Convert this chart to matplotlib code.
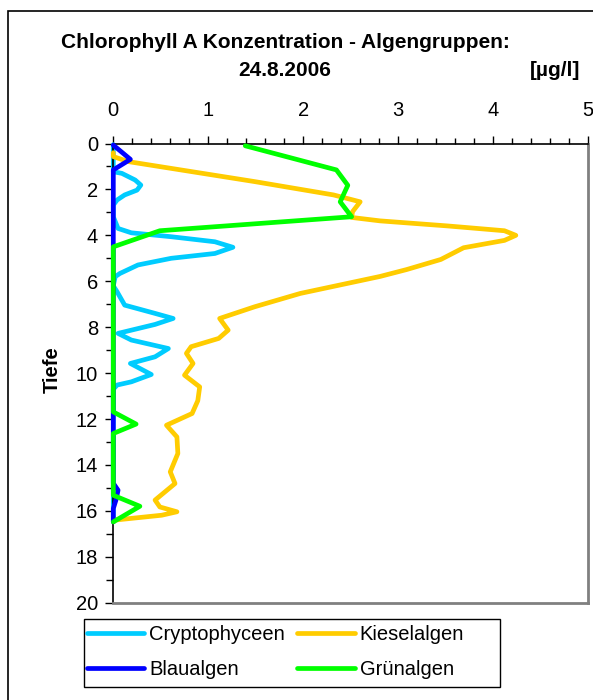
import matplotlib
matplotlib.use("Agg")
import matplotlib.pyplot as plt
from matplotlib.patches import Rectangle
from matplotlib.ticker import MultipleLocator

plt.rcParams['font.family'] = ['Liberation Sans', 'DejaVu Sans']

# ---- data (value in µg/l, depth in m) ----
crypto_val = [0, 0, 0.09, 0.23, 0.29, 0.25, 0.12, 0.04, 0, 0, 0.05, 0.19, 0.61, 1.07, 1.26, 1.07, 0.61, 0.26,
              0.07, 0.02, 0, 0.04, 0.12, 0.44, 0.63, 0.44, 0.05, 0.19, 0.58, 0.44, 0.18, 0.4, 0.19, 0.04, 0, 0]
crypto_depth = [0.05, 1.23, 1.3, 1.59, 1.81, 2.03, 2.24, 2.46, 2.68, 3.19, 3.7, 3.89, 4.06, 4.28, 4.52, 4.79,
                5.0, 5.29, 5.66, 5.8, 6.2, 6.46, 7.04, 7.4, 7.62, 7.88, 8.27, 8.56, 8.93, 9.29, 9.58, 10.06,
                10.38, 10.52, 10.7, 16.48]

kiesel_val = [0, 0, 0.16, 1.49, 2.32, 2.6, 2.52, 2.51, 2.81, 3.52, 4.12, 4.24, 4.12, 3.69, 3.45, 3.09, 2.81,
              1.97, 1.49, 1.12, 1.21, 1.11, 0.82, 0.77, 0.84, 0.75, 0.91, 0.89, 0.83, 0.56, 0.67, 0.68,
              0.6, 0.65, 0.44, 0.49, 0.67, 0.51, 0.02, 0]
kiesel_depth = [0.4, 0.57, 0.79, 1.66, 2.24, 2.54, 2.97, 3.22, 3.37, 3.59, 3.8, 4.0, 4.22, 4.54, 5.05, 5.49, 5.79,
                6.53, 7.11, 7.62, 8.13, 8.49, 8.85, 9.14, 9.58, 10.09, 10.6, 11.2, 11.76, 12.27, 12.78, 13.5,
                14.3, 14.81, 15.53, 15.83, 16.04, 16.19, 16.4, 16.48]

blau_val = [0, 0.18, 0, 0, 0.05, 0.03, 0, 0]
blau_depth = [0.07, 0.69, 1.15, 14.8, 15.1, 15.5, 15.9, 16.48]

gruen_val = [1.39, 2.35, 2.47, 2.39, 2.51, 0.49, 0, 0, 0.24, 0, 0, 0.28, 0]
gruen_depth = [0.1, 1.15, 1.82, 2.54, 3.19, 3.8, 4.5, 11.69, 12.22, 12.63, 15.32, 15.8, 16.48]

labels = ["Cryptophyceen", "Kieselalgen", "Blaualgen", "Grünalgen"]
colors = ["#00CCFF", "#FFCC00", "#0000FF", "#00FF00"]

W, H = 593, 700
fig = plt.figure(figsize=(W / 100, H / 100), dpi=100)

# outer chart frame
fig.patches.append(Rectangle((8 / W, -0.05), 1.2, 1 - 11 / H + 0.05, transform=fig.transFigure,
                             fill=False, edgecolor='black', linewidth=1.2))

ax = fig.add_axes([113.3 / W, 1 - 602.7 / H, (588 - 113.3) / W, (602.7 - 143.5) / H])

lines = []
for v, d, c, lab, z in [(crypto_val, crypto_depth, colors[0], labels[0], 2),
                        (kiesel_val, kiesel_depth, colors[1], labels[1], 3),
                        (blau_val, blau_depth, colors[2], labels[2], 4),
                        (gruen_val, gruen_depth, colors[3], labels[3], 5)]:
    ln, = ax.plot(v, d, color=c, lw=3.4, label=lab, zorder=z, solid_joinstyle='round',
                  solid_capstyle='round', clip_on=False)
    lines.append(ln)

ax.set_xlim(0, 5)
ax.set_ylim(20, 0)
ax.xaxis.tick_top()
ax.xaxis.set_major_locator(MultipleLocator(1))
ax.xaxis.set_minor_locator(MultipleLocator(0.2))
ax.yaxis.set_major_locator(MultipleLocator(2))
ax.yaxis.set_minor_locator(MultipleLocator(1))
ax.tick_params(axis='x', which='major', length=6, width=1, pad=11, labelsize=14.5, direction='out')
ax.tick_params(axis='x', which='minor', length=4, width=1, direction='out')
ax.tick_params(axis='y', which='major', length=6, width=1, pad=5, labelsize=14.5, direction='out')
ax.tick_params(axis='y', which='minor', length=5, width=1, direction='out')
for s in ['left', 'top']:
    ax.spines[s].set_color('black')
    ax.spines[s].set_linewidth(1.2)
for s in ['right', 'bottom']:
    ax.spines[s].set_color('#808080')
    ax.spines[s].set_linewidth(2)

fig.text(52 / W, 1 - 370 / H, "Tiefe", rotation=90, fontsize=14.5, fontweight='bold',
         ha='center', va='center')

fig.text(285 / W, 1 - 43 / H, "Chlorophyll A Konzentration - Algengruppen:", fontsize=15,
         fontweight='bold', ha='center', va='center')
fig.text(285 / W, 1 - 70 / H, "24.8.2006", fontsize=15, fontweight='bold', ha='center', va='center')
fig.text(555 / W, 1 - 70 / H, "[µg/l]", fontsize=15, fontweight='bold', ha='center', va='center')

# legend frame
fig.patches.append(Rectangle((84 / W, 1 - 687 / H), (500 - 84) / W, (687 - 619) / H,
                             transform=fig.transFigure, fill=False, edgecolor='black', linewidth=1.0))
leg = fig.legend([lines[0], lines[2], lines[1], lines[3]],
                 [labels[0], labels[2], labels[1], labels[3]],
                 ncol=2, loc='upper left', bbox_to_anchor=(87 / W, 1 - 625 / H),
                 fontsize=14.5, frameon=False,
                 handlelength=2.85, handletextpad=0.25, columnspacing=0.6, borderpad=0,
                 labelspacing=0.8, borderaxespad=0)

fig.savefig("out.png", dpi=100)
